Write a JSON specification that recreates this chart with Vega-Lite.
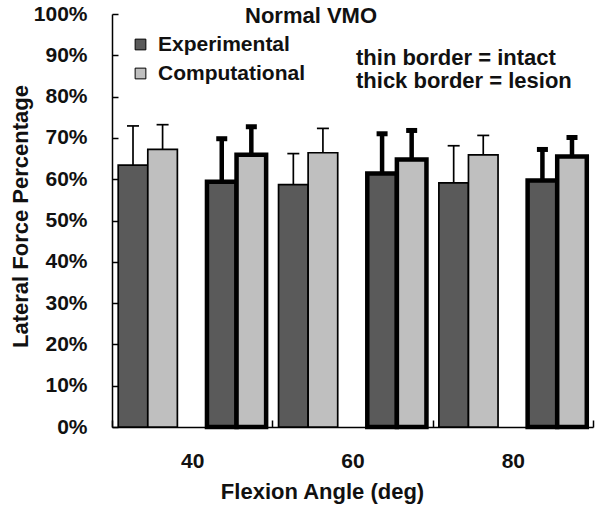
{
  "$schema": "https://vega.github.io/schema/vega-lite/v6.json",
  "autosize": {"type": "none"},
  "padding": {"left": 112, "top": 14, "right": 8, "bottom": 81},
  "width": 481,
  "height": 413,
  "background": "white",
  "config": {
    "view": {"stroke": null},
    "font": "Liberation Sans",
    "axis": {"grid": false, "domainColor": "#000", "domainWidth": 1.5, "tickColor": "#000", "tickWidth": 1.5, "labelColor": "#111", "titleColor": "#111", "labelFont": "Liberation Sans", "titleFont": "Liberation Sans", "labelFontWeight": "bold", "titleFontWeight": "bold"}
  },
  "title": {"text": "Normal VMO", "orient": "top", "anchor": "start", "frame": "group", "dx": 133, "offset": -42, "baseline": "alphabetic", "font": "Liberation Sans", "fontSize": 22, "fontWeight": "bold", "color": "#111"},
  "data": {"values": [
    {"angle": "40", "condition": "intact", "series": "Experimental", "slot": "intact Experimental", "value": 63.4, "upper": 72.9},
    {"angle": "40", "condition": "intact", "series": "Computational", "slot": "intact Computational", "value": 67.2, "upper": 73.2},
    {"angle": "40", "condition": "lesion", "series": "Experimental", "slot": "lesion Experimental", "value": 59.4, "upper": 69.8},
    {"angle": "40", "condition": "lesion", "series": "Computational", "slot": "lesion Computational", "value": 65.9, "upper": 72.7},
    {"angle": "60", "condition": "intact", "series": "Experimental", "slot": "intact Experimental", "value": 58.7, "upper": 66.2},
    {"angle": "60", "condition": "intact", "series": "Computational", "slot": "intact Computational", "value": 66.4, "upper": 72.3},
    {"angle": "60", "condition": "lesion", "series": "Experimental", "slot": "lesion Experimental", "value": 61.4, "upper": 71.0},
    {"angle": "60", "condition": "lesion", "series": "Computational", "slot": "lesion Computational", "value": 64.8, "upper": 71.8},
    {"angle": "80", "condition": "intact", "series": "Experimental", "slot": "intact Experimental", "value": 59.1, "upper": 68.1},
    {"angle": "80", "condition": "intact", "series": "Computational", "slot": "intact Computational", "value": 65.9, "upper": 70.6},
    {"angle": "80", "condition": "lesion", "series": "Experimental", "slot": "lesion Experimental", "value": 59.7, "upper": 67.2},
    {"angle": "80", "condition": "lesion", "series": "Computational", "slot": "lesion Computational", "value": 65.5, "upper": 70.1}
  ]},
  "encoding": {
    "x": {"field": "angle", "type": "nominal", "scale": {"paddingInner": 0, "paddingOuter": 0},
      "axis": {"title": "Flexion Angle (deg)", "labelAngle": 0, "labelFontSize": 21, "labelPadding": 30, "tickSize": -7, "tickBand": "extent", "titleFontSize": 22, "titleX": 210, "titleY": 71, "titleBaseline": "alphabetic", "titleAlign": "center"}},
    "xOffset": {"field": "slot", "type": "nominal", "scale": {"domain": ["intact Experimental", "intact Computational", "gap", "lesion Experimental", "lesion Computational"], "paddingInner": 0, "paddingOuter": 0.21}},
    "y": {"field": "value", "type": "quantitative", "scale": {"domain": [0, 100], "nice": false},
      "axis": {"title": "Lateral Force Percentage", "values": [0, 10, 20, 30, 40, 50, 60, 70, 80, 90, 100], "labelExpr": "datum.value + '%'", "labelFontSize": 21, "labelPadding": 31, "tickSize": -6, "titleFontSize": 22, "titleX": -85, "titleY": 202, "titleAngle": -90, "titleBaseline": "alphabetic", "titleAlign": "center"}}
  },
  "layer": [
    {
      "mark": {"type": "bar", "stroke": "#000"},
      "encoding": {
        "fill": {"field": "series", "type": "nominal", "scale": {"domain": ["Experimental", "Computational"], "range": ["#5a5a5a", "#bfbfbf"]},
          "legend": {"title": null, "orient": "none", "legendX": 18, "legendY": 20, "symbolType": "square", "symbolSize": 115, "symbolStrokeColor": "#000", "symbolStrokeWidth": 1, "labelFont": "Liberation Sans", "labelFontSize": 21, "labelFontWeight": "bold", "labelColor": "#111", "labelOffset": 7, "labelLimit": 300, "rowPadding": 7}},
        "strokeWidth": {"field": "condition", "type": "nominal", "scale": {"domain": ["intact", "lesion"], "range": [1.7, 4.5]},
          "legend": {"title": null, "orient": "none", "legendX": 222, "legendY": 33, "symbolOpacity": 0, "symbolSize": 0, "labelOffset": 0, "labelLimit": 400, "labelExpr": "datum.label == 'intact' ? 'thin border = intact' : 'thick border = lesion'", "labelFont": "Liberation Sans", "labelFontSize": 22, "labelFontWeight": "bold", "labelColor": "#111", "rowPadding": 1}}
      }
    },
    {
      "mark": {"type": "rule", "color": "#000"},
      "encoding": {
        "y2": {"field": "upper"},
        "strokeWidth": {"field": "condition", "type": "nominal"}
      }
    },
    {
      "transform": [{"filter": "datum.condition == 'intact'"}],
      "mark": {"type": "tick", "color": "#000", "thickness": 1.7, "size": 12, "opacity": 1},
      "encoding": {"y": {"field": "upper", "type": "quantitative"}}
    },
    {
      "transform": [{"filter": "datum.condition == 'lesion'"}],
      "mark": {"type": "tick", "color": "#000", "thickness": 5, "size": 11, "opacity": 1},
      "encoding": {"y": {"field": "upper", "type": "quantitative"}}
    }
  ]
}
